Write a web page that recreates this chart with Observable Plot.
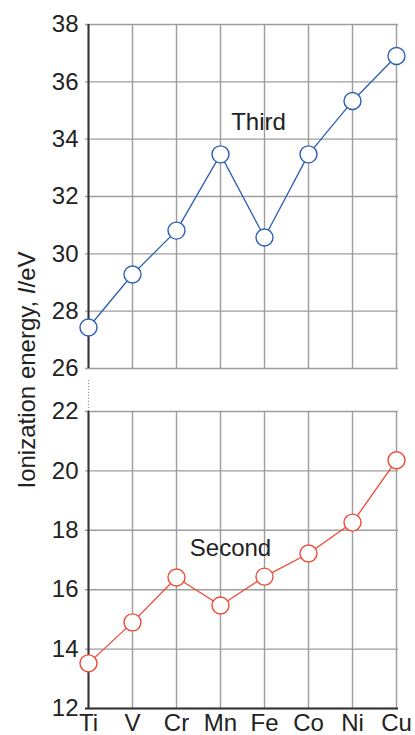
<!DOCTYPE html>
<html>
<head>
<meta charset="utf-8">
<script src="https://cdn.jsdelivr.net/npm/d3@7"></script>
<script src="https://cdn.jsdelivr.net/npm/@observablehq/plot@0.6"></script>
<style>
  html, body { margin: 0; padding: 0; background: #fff; }
  #wrap { position: relative; width: 415px; height: 735px; font-family: "Liberation Sans", Arial, sans-serif; }
  #top, #bottom { position: absolute; left: 0; }
  #top { top: 0; }
  #bottom { top: 380px; }
  #ylabel { position: absolute; left: 27px; top: 370px; transform: translate(-50%, -50%) rotate(-90deg);
            white-space: nowrap; font-size: 24px; color: #222; }
</style>
</head>
<body>
<div id="wrap">
  <div id="top"></div>
  <div id="bottom"></div>
  <div id="ylabel">Ionization energy, <i>I</i>/eV</div>
</div>
<script>
const elements = ["Ti", "V", "Cr", "Mn", "Fe", "Co", "Ni", "Cu"];
const thirdIE = [27.43, 29.28, 30.81, 33.47, 30.57, 33.47, 35.33, 36.9];
const secondIE = [13.52, 14.9, 16.41, 15.47, 16.44, 17.22, 18.26, 20.36];
const topTicks = [26, 28, 30, 32, 34, 36, 38];
const bottomTicks = [12, 14, 16, 18, 20, 22];
const seriesLabels = [{name: "Third", x: "Fe", y: 34.6}];
const seriesLabels2 = [{name: "Second", x: "Mn", y: 17.39}];
const breakTop = 23.2;

const thirdData = elements.map((e, i) => ({el: e, v: thirdIE[i]}));
const secondData = elements.map((e, i) => ({el: e, v: secondIE[i]}));

const font = "\"Liberation Sans\", Arial, sans-serif";
const grid = "#9d9d9d";
const dark = "#333";
const blue = "#2b5fb4";
const red = "#ef4a35";

const topPlot = Plot.plot({
  width: 415, height: 380,
  marginTop: 24, marginBottom: 12, marginLeft: 85, marginRight: 17,
  style: {fontFamily: font, fontSize: "24px", color: "#222", background: "#fff"},
  x: {type: "point", domain: elements, padding: 0, axis: null},
  y: {domain: [26, 38]},
  marks: [
    Plot.ruleX(elements, {stroke: grid, strokeWidth: 1.4}),
    Plot.ruleY(topTicks, {stroke: grid, strokeWidth: 1.4}),
    Plot.ruleX(["Ti"], {stroke: dark, strokeWidth: 2}),
    Plot.axisY({ticks: topTicks, tickSize: 0, tickPadding: 7, label: null, fontSize: 24, fill: "#222"}),
    Plot.line(thirdData, {x: "el", y: "v", stroke: blue, strokeWidth: 1.3}),
    Plot.dot(thirdData, {x: "el", y: "v", r: 8.5, fill: "#fff", stroke: blue, strokeWidth: 1.4}),
    Plot.text(seriesLabels, {x: "x", y: "y", text: "name", dx: -6, fontSize: 24, fill: "#222"})
  ]
});
document.getElementById("top").appendChild(topPlot);

const bottomPlot = Plot.plot({
  width: 415, height: 355,
  marginTop: 31, marginBottom: 27, marginLeft: 85, marginRight: 17,
  style: {fontFamily: font, fontSize: "24px", color: "#222", background: "#fff"},
  x: {type: "point", domain: elements, padding: 0},
  y: {domain: [12, 22]},
  marks: [
    Plot.ruleX(elements, {stroke: grid, strokeWidth: 1.4}),
    Plot.ruleY(bottomTicks, {stroke: grid, strokeWidth: 1.4}),
    Plot.ruleX(["Ti"], {y1: 22, y2: breakTop, stroke: "#999", strokeWidth: 1.2, strokeDasharray: "1.2,1.8"}),
    Plot.ruleX(["Ti"], {stroke: dark, strokeWidth: 2}),
    Plot.ruleY([12], {stroke: dark, strokeWidth: 2}),
    Plot.axisY({ticks: bottomTicks, tickSize: 0, tickPadding: 7, label: null, fontSize: 24, fill: "#222"}),
    Plot.axisX({tickSize: 0, tickPadding: 5, label: null, fontSize: 24, fill: "#222"}),
    Plot.line(secondData, {x: "el", y: "v", stroke: red, strokeWidth: 1.3}),
    Plot.dot(secondData, {x: "el", y: "v", r: 8.5, fill: "#fff", stroke: red, strokeWidth: 1.4}),
    Plot.text(seriesLabels2, {x: "x", y: "y", text: "name", dx: 10, fontSize: 24, fill: "#222"})
  ]
});
document.getElementById("bottom").appendChild(bottomPlot);
</script>
</body>
</html>
